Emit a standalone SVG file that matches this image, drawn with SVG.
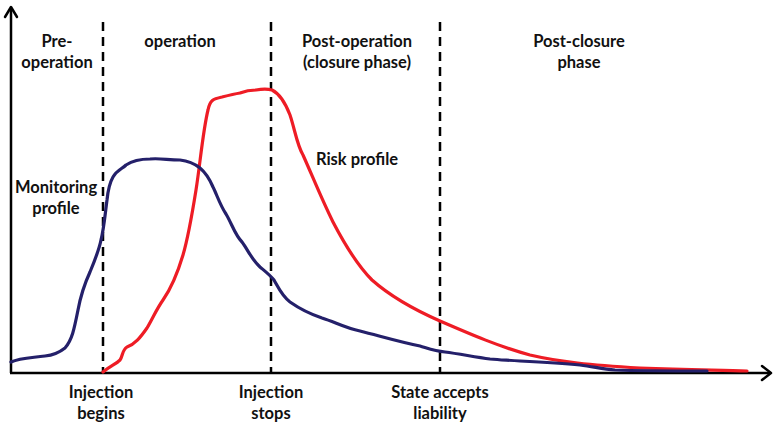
<svg xmlns="http://www.w3.org/2000/svg" width="774" height="422" viewBox="0 0 774 422">
  <style>
    .lbl { font-family: Lato, "Open Sans", "Liberation Sans", sans-serif; font-weight: bold; font-size: 16.5px; fill: #111; text-anchor: middle; }
    .axis { stroke: #000; stroke-width: 2.5; fill: none; }
    .head { stroke: #000; stroke-width: 2.5; fill: none; stroke-linecap: round; stroke-linejoin: round; }
    .phase { stroke: #000; stroke-width: 2.5; stroke-dasharray: 9 6; fill: none; }
    .curve { fill: none; stroke-width: 3.2; stroke-linecap: round; stroke-linejoin: round; }
  </style>
  <rect width="774" height="422" fill="#fff"/>

  <!-- axes -->
  <g id="axes">
    <line class="axis" x1="11" y1="373" x2="11" y2="8"/>
    <polyline class="head" points="5,17 11,7 17,17"/>
    <line class="axis" x1="10" y1="373" x2="770" y2="373"/>
    <polyline class="head" points="762,366 771,373 762,380"/>
  </g>

  <!-- phase boundaries -->
  <g id="boundaries">
    <line class="phase" x1="103" y1="22" x2="103" y2="372"/>
    <line class="phase" x1="271" y1="22" x2="271" y2="372"/>
    <line class="phase" x1="440" y1="22" x2="440" y2="372"/>
  </g>

  <!-- profiles -->
  <g id="connectors">
    <path id="risk-curve" class="curve" stroke="#EE1C25" d="M103,372 C110,366 116,364 120,360 C123,356 122,350 127,347 C135,344 140,338 147,328 C153,318 156,310 163,300 C170,290 177,275 183,255 C188,238 192,215 196,190 C200,165 203,130 208,110 C210,100 213,99 222,97 C230,95 234,94 240,93 C245,91 250,90 256,90 C262,89 268,89 272,90 C280,94 285,102 290,115 C295,130 297,145 303,155 C312,175 322,200 333,222 C345,245 357,265 372,280 C390,296 415,310 440,321 C470,334 500,347 530,355 C560,362 590,365 640,368 C690,370 720,370 747,371"/>
    <path id="monitoring-curve" class="curve" stroke="#24206A" d="M11,362 C20,358 30,358 45,356 C55,355 60,352 65,348 C72,340 74,330 78,310 C81,294 84,285 90,272 C95,260 99,250 101,240 C104,228 105,215 107,200 C108,190 109,184 113,177 C117,170 122,169 126,165 C132,161 140,159 150,159 C160,158 168,160 180,160 C190,161 195,164 200,168 C206,173 210,180 213,187 C217,195 220,205 226,214 C232,224 235,235 242,242 C248,250 252,260 260,267 C266,272 270,275 274,280 C278,287 282,296 290,302 C300,309 310,314 322,318 C335,322 345,328 360,331 C380,336 400,342 420,346 C430,349 435,351 445,352 C460,354 475,357 490,359 C500,360 505,360 520,361 C540,362 560,363 580,365 C595,367 603,369 615,370 C640,371 680,371 707,371"/>
  </g>

  <!-- phase headings -->
  <g id="phase-pre">
    <text class="lbl" x="57" y="47">Pre-</text>
    <text class="lbl" x="57" y="68">operation</text>
  </g>
  <g id="phase-operation">
    <text class="lbl" x="180" y="47">operation</text>
  </g>
  <g id="phase-post-operation">
    <text class="lbl" x="357" y="47">Post-operation</text>
    <text class="lbl" x="357" y="68">(closure phase)</text>
  </g>
  <g id="phase-post-closure">
    <text class="lbl" x="579" y="47">Post-closure</text>
    <text class="lbl" x="579" y="68">phase</text>
  </g>

  <!-- curve labels -->
  <g id="label-risk">
    <text class="lbl" x="357" y="165">Risk profile</text>
  </g>
  <g id="label-monitoring">
    <text class="lbl" x="56" y="193">Monitoring</text>
    <text class="lbl" x="56" y="214">profile</text>
  </g>

  <!-- milestones -->
  <g id="milestone-injection-begins">
    <text class="lbl" x="101" y="398">Injection</text>
    <text class="lbl" x="101" y="419">begins</text>
  </g>
  <g id="milestone-injection-stops">
    <text class="lbl" x="271" y="398">Injection</text>
    <text class="lbl" x="271" y="419">stops</text>
  </g>
  <g id="milestone-state-liability">
    <text class="lbl" x="440" y="398">State accepts</text>
    <text class="lbl" x="440" y="419">liability</text>
  </g>
</svg>
